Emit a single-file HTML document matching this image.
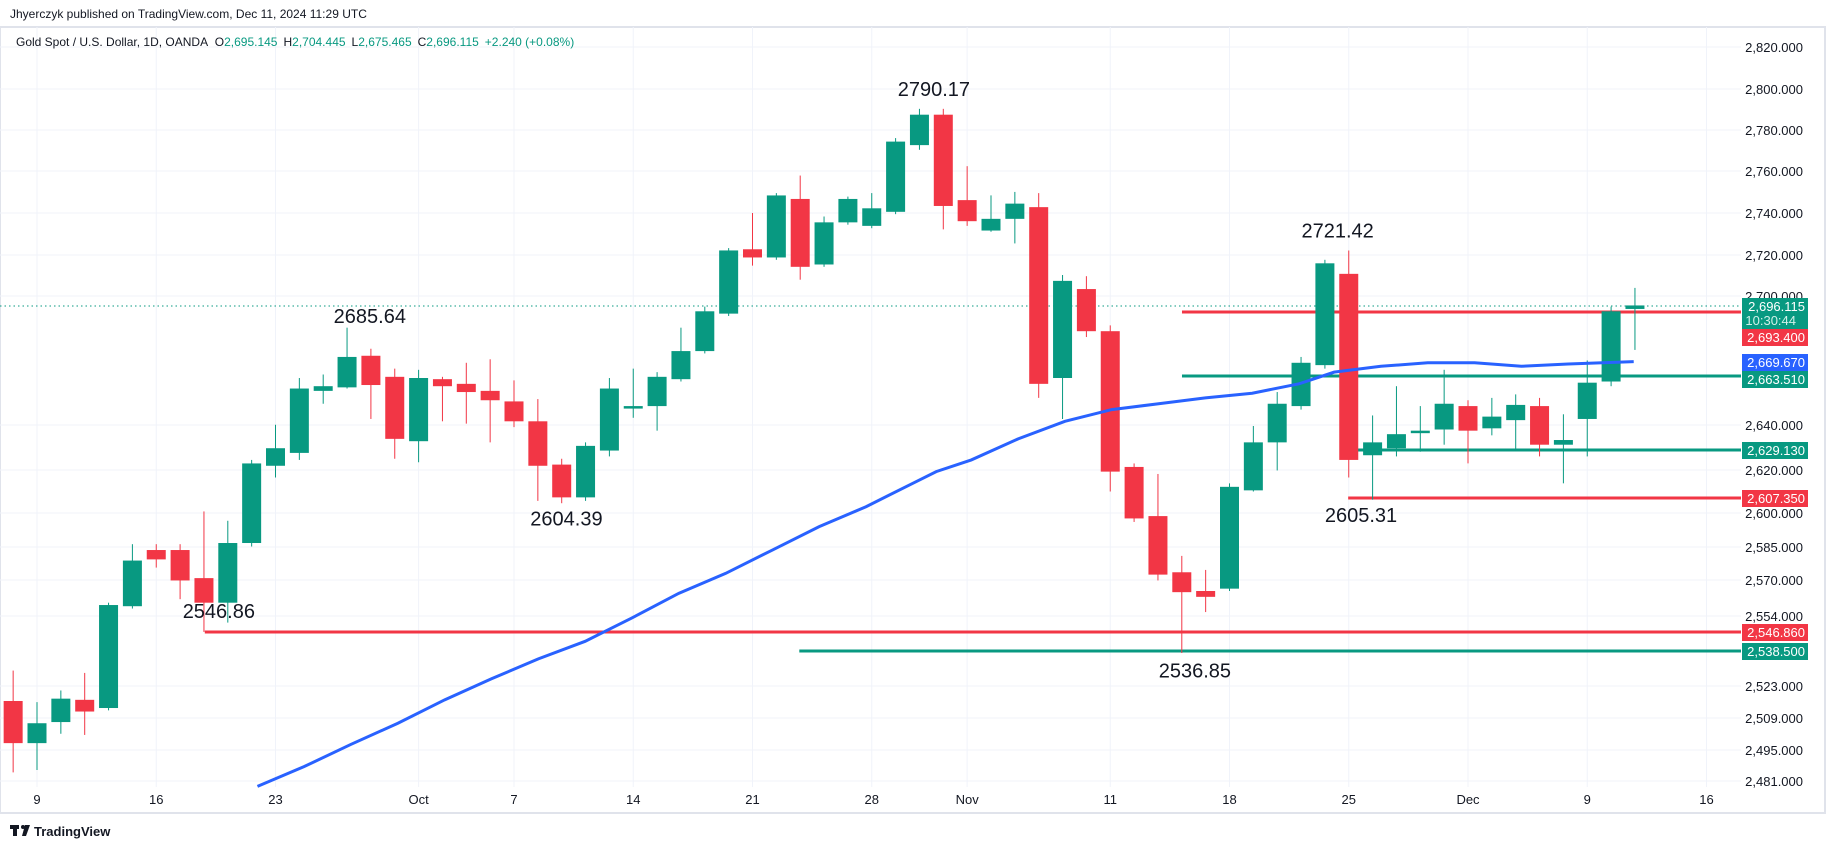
<!DOCTYPE html>
<html><head><meta charset="utf-8"><style>
html,body{margin:0;padding:0;background:#fff;width:1835px;height:849px;overflow:hidden;font-family:"Liberation Sans",sans-serif}
</style></head><body>
<svg id="c" width="1835" height="849" xmlns="http://www.w3.org/2000/svg" font-family="Liberation Sans, sans-serif"></svg>
<script>
const S=1835/1568, G='#089981', R='#f23645', B='#2962ff';
const svg=document.getElementById('c');
let h='';
h+=`<rect x="0" y="27" width="1825" height="786" fill="#fff" stroke="#e0e3eb" stroke-width="2"/>`;
const ticks=[[2820,47],[2800,89],[2780,130],[2760,171],[2740,213],[2720,255],[2700,296],[2640,425],[2620,470],[2600,513],[2585,547],[2570,580],[2554,616],[2523,686],[2509,718],[2495,750],[2481,781]];
ticks.forEach(t=>{h+=`<line x1="0" x2="1741" y1="${t[1]}" y2="${t[1]}" stroke="#f0f3fa" stroke-width="1"/>`;
h+=`<text x="1803" y="${t[1]+5}" font-size="13" text-anchor="end" fill="#131722">${t[0].toLocaleString('en-US')}.000</text>`;});
const cx=i=>37+i*23.85;
const dates=[[0,'9'],[5,'16'],[10,'23'],[16,'Oct'],[20,'7'],[25,'14'],[30,'21'],[35,'28'],[39,'Nov'],[45,'11'],[50,'18'],[55,'25'],[60,'Dec'],[65,'9'],[70,'16']];
dates.forEach(d=>{const x=cx(d[0]);h+=`<line x1="${x}" x2="${x}" y1="27" y2="787" stroke="#f0f3fa"/>`;
h+=`<text x="${x}" y="804" font-size="13" text-anchor="middle" fill="#131722">${d[1]}</text>`;});
const ma=[[220,672],[260,655],[300,636],[340,618],[380,598],[420,580],[460,563],[500,548],[540,528],[580,507],[620,490],[660,470],[700,450],[740,433],[780,413],[800,403],[830,393],[870,375],[910,360],[950,350],[990,345],[1030,340],[1070,336],[1110,328],[1140,318],[1180,313],[1220,310],[1260,310],[1300,313],[1340,311],[1396,309]];
const hl=[[1010,312/S,R,1],[1010,376/S,G,1],[1160,450/S,G,1],[1152,498/S,R,1],[175,632/S,R,1],[683,651/S,G,1]];
hl.forEach(l=>{h+=`<line x1="${l[0]*S}" x2="1741" y1="${l[1]*S}" y2="${l[1]*S}" stroke="${l[2]}" stroke-width="3"/>`;});
h+=`<line x1="0" x2="1741" y1="306" y2="306" stroke="${G}" stroke-width="1" stroke-dasharray="1.5,3"/>`;
const c=[[-1,'r',599,635,573,660],[0,'g',618,635,600,658],[1,'g',597,617,590,627],[2,'r',598,608,575,628],[3,'g',517,605,515,607],[4,'g',479,518,465,520],[5,'r',470,478,465,485],[6,'r',470,496,465,512],[7,'r',494,515,437,540],[8,'g',464,515,445,532],[9,'g',396,464,393,467],[10,'g',383,398,363,408],[11,'g',332,387,323,393],[12,'g',330,334,320,345],[13,'g',305,331,280,332],[14,'r',304,329,298,358],[15,'r',322,375,315,392],[16,'g',323,377,316,395],[17,'r',324,330,322,360],[18,'r',328,335,310,362],[19,'r',334,342,307,378],[20,'r',343,360,325,365],[21,'r',360,398,341,428],[22,'r',397,425,392,430],[23,'g',381,425,378,428],[24,'g',332,385,323,390],[25,'g',347,349,315,357],[26,'g',322,347,318,368],[27,'g',300,324,280,326],[28,'g',266,300,262,302],[29,'g',214,268,212,270],[30,'r',213,220,182,227],[31,'g',167,220,165,222],[32,'r',170,228,150,239],[33,'g',190,226,185,228],[34,'g',170,190,168,192],[35,'g',178,193,165,195],[36,'g',121,181,118,183],[37,'g',98,124,93,128],[38,'r',98,176,93,196],[39,'r',171,189,142,193],[40,'g',187,197,167,198],[41,'g',174,187,164,208],[42,'r',177,328,165,340],[43,'g',240,323,235,358],[44,'r',247,283,236,288],[45,'r',283,403,278,420],[46,'r',399,443,396,446],[47,'r',441,491,405,496],[48,'r',489,506,475,558],[49,'r',505,510,487,523],[50,'g',416,503,413,505],[51,'g',378,419,364,420],[52,'g',345,378,335,402],[53,'g',310,347,305,350],[54,'g',225,312,222,315],[55,'r',234,393,214,408],[56,'g',378,389,355,427],[57,'g',371,383,330,390],[58,'g',368,370,347,386],[59,'g',345,367,316,380],[60,'r',347,368,342,396],[61,'g',356,366,340,372],[62,'g',346,359,337,385],[63,'r',347,380,340,390],[64,'g',376,380,354,413],[65,'g',327,358,308,390],[66,'g',266,326,262,330],[67,'g',261,264,246,299]];
c.forEach(k=>{const x=cx(k[0]),col=k[1]=='g'?G:R;
h+=`<line x1="${x}" x2="${x}" y1="${k[4]*S}" y2="${k[5]*S}" stroke="${col}" stroke-width="1"/>`;
const t=k[2]*S,b=Math.max(k[3]*S,t+2.5);
h+=`<rect x="${x-9.5}" y="${t}" width="19" height="${b-t}" fill="${col}"/>`;});
h+=`<polyline fill="none" stroke="${B}" stroke-width="3" points="${ma.map(p=>p[0]*S+','+p[1]*S).join(' ')}"/>`;
[['2790.17',798,76],['2685.64',316,270],['2604.39',484,443],['2546.86',187,522],['2721.42',1143,197],['2536.85',1021,573],['2605.31',1163,440]].forEach(a=>{
h+=`<text x="${a[1]*S}" y="${a[2]*S+7}" font-size="20" text-anchor="middle" fill="#131722">${a[0]}</text>`;});
h+=`<rect x="1742" y="298" width="66" height="31" fill="${G}"/><text x="1805" y="311" font-size="13" text-anchor="end" fill="#fff">2,696.115</text><text x="1796" y="325" font-size="13" text-anchor="end" fill="#d0f0e8">10:30:44</text>`;
[['2,693.400',329,R],['2,669.670',354,B],['2,663.510',371,G],['2,629.130',442,G],['2,607.350',490,R],['2,546.860',624,R],['2,538.500',643,G]].forEach(p=>{
h+=`<rect x="1742" y="${p[1]}" width="66" height="17" fill="${p[2]}"/><text x="1805" y="${p[1]+13}" font-size="13" text-anchor="end" fill="#fff">${p[0]}</text>`;});
h+=`<text x="10" y="18" font-size="12" fill="#131722">Jhyerczyk published on TradingView.com, Dec 11, 2024 11:29 UTC</text>`;
h+=`<text x="16" y="46" font-size="12" fill="#131722">Gold Spot / U.S. Dollar, 1D, OANDA <tspan dx="4">O</tspan><tspan fill="${G}">2,695.145</tspan><tspan dx="6">H</tspan><tspan fill="${G}">2,704.445</tspan><tspan dx="6">L</tspan><tspan fill="${G}">2,675.465</tspan><tspan dx="6">C</tspan><tspan fill="${G}">2,696.115</tspan><tspan dx="6" fill="${G}">+2.240 (+0.08%)</tspan></text>`;
h+=`<rect x="10" y="825" width="9" height="4" fill="#131722"/><rect x="13" y="825" width="4" height="11" fill="#131722"/><circle cx="23" cy="827" r="2" fill="#131722"/><path d="M25 825 L30 825 L26 836 L22 836 Z" fill="#131722"/>`;
h+=`<text x="34" y="836" font-size="13" font-weight="bold" fill="#131722">TradingView</text>`;
svg.innerHTML=h;
</script>
</body></html>
